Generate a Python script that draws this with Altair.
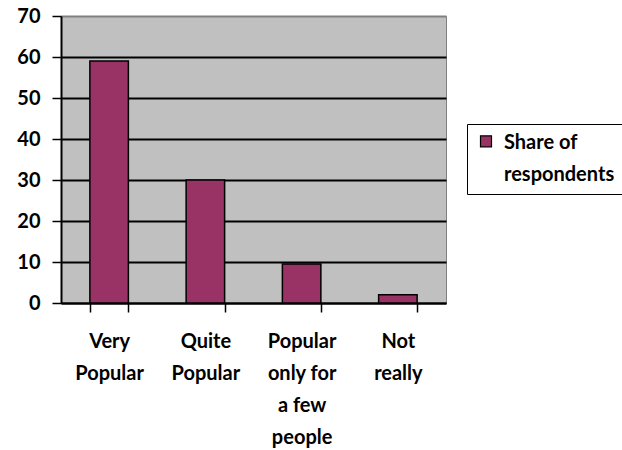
import altair as alt
import pandas as pd

categories = ["Very Popular", "Quite Popular", "Popular only for a few people", "Not really"]
category_lines = [["Very", "Popular"], ["Quite", "Popular"], ["Popular", "only for", "a few", "people"], ["Not", "really"]]
values = [59, 30, 9.5, 2]
series_name = "Share of respondents"
series_lines = ["Share of", "respondents"]
y_ticks = [0, 10, 20, 30, 40, 50, 60, 70]

df = pd.DataFrame({"category": categories, "value": values, "series": [series_name] * len(categories)})


def js_list(items):
    return "[" + ",".join("'" + s + "'" for s in items) + "]"


x_label_expr = ""
for cat, lines in zip(categories, category_lines):
    x_label_expr += "datum.value == '" + cat + "' ? " + js_list(lines) + " : "
x_label_expr += "datum.label"

legend_label_expr = "datum.label == '" + series_name + "' ? " + js_list(series_lines) + " : datum.label"

FONT = "Lato"

chart = alt.Chart(df).mark_bar(stroke="black", strokeWidth=1.5).encode(
    x=alt.X(
        "category:N",
        sort=categories,
        scale=alt.Scale(paddingInner=0.6, paddingOuter=0.3),
        axis=alt.Axis(
            title=None,
            labelAngle=0,
            labelExpr=x_label_expr,
            labelFont=FONT,
            labelFontSize=20,
            labelFontWeight="bold",
            labelColor="black",
            labelLineHeight=32,
            labelPadding=19,
            labelLimit=300,
            tickBand="extent",
            tickSize=9,
            tickColor="black",
            tickWidth=1.5,
            domainColor="black",
            domainWidth=2,
            grid=False,
        ),
    ),
    y=alt.Y(
        "value:Q",
        scale=alt.Scale(domain=[0, 70], nice=False),
        axis=alt.Axis(
            title=None,
            values=y_ticks,
            labelFont=FONT,
            labelFontSize=20,
            labelFontWeight="bold",
            labelColor="black",
            labelPadding=12,
            tickSize=9,
            tickColor="black",
            tickWidth=1.5,
            domainColor="black",
            domainWidth=2,
            grid=True,
            gridColor=alt.condition("datum.value == 70", alt.value("#808080"), alt.value("black")),
            gridWidth=1.8,
        ),
    ),
    color=alt.Color(
        "series:N",
        scale=alt.Scale(range=["#993366"]),
        legend=alt.Legend(
            title=None,
            orient="none",
            legendX=406,
            legendY=108,
            padding=9,
            strokeColor="black",
            fillColor="white",
            cornerRadius=0,
            symbolType="M-1,-1.3H1V0.7H-1Z",
            symbolSize=121,
            symbolStrokeColor="black",
            symbolStrokeWidth=1.2,
            labelExpr=legend_label_expr,
            labelFont=FONT,
            labelFontSize=20,
            labelFontWeight="bold",
            labelColor="black",
            labelBaseline="middle",
            labelOffset=8,
            labelLimit=300,
        ),
    ),
).properties(
    width=385,
    height=287,
    autosize=alt.AutoSizeParams(type="none"),
    padding={"left": 61, "top": 16, "right": 176, "bottom": 147},
).configure(
    background="white",
    style={"guide-label": {"lineHeight": 32}},
    view=alt.ViewConfig(fill="#C0C0C0", stroke="#808080", strokeWidth=1),
)

chart.save("out.html", embed_options={"renderer": "svg", "actions": False})
